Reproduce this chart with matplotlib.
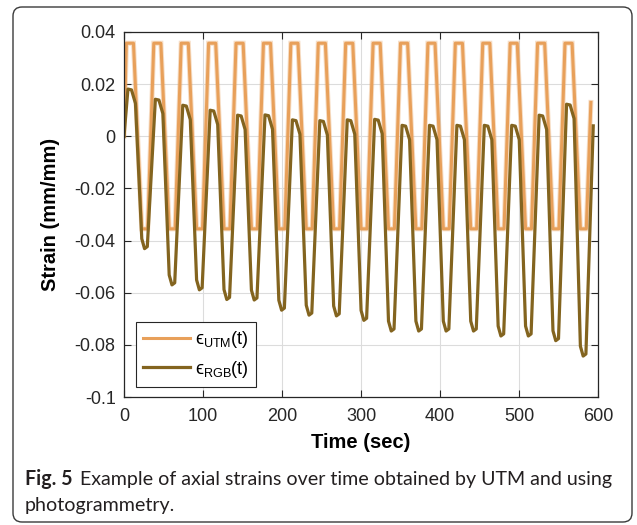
"""Axial strain vs time: UTM reading against photogrammetry (RGB) estimate."""
import matplotlib
matplotlib.use("Agg")
import matplotlib.pyplot as plt
from matplotlib.patches import FancyBboxPatch
from matplotlib.transforms import IdentityTransform
import numpy as np

# start time (s) of each loading cycle, read from the UTM wave
CYCLE_START = [0.0, 34.7, 69.4, 104.1, 138.8, 173.5, 208.2, 242.9, 277.6,
               312.3, 347.0, 381.7, 416.4, 451.1, 485.8, 520.5, 555.2]

# UTM: one trapezoid per cycle (offset from cycle start, strain)
UTM_OFFSETS = [3.0, 12.0, 22.5, 30.0]
UTM_LEVELS = [0.0357, 0.0357, -0.0355, -0.0355]
UTM_FIRST = (0.0, 0.0)
UTM_LAST = (591.0, 0.013)

# RGB: peak and trough strain of each cycle
RGB_PEAKS = [0.0181, 0.0142, 0.0119, 0.0100, 0.0081, 0.0082, 0.0063, 0.0060,
             0.0063, 0.0065, 0.0042, 0.0042, 0.0042, 0.0042, 0.0042, 0.0081,
             0.0123]
RGB_TROUGHS = [-0.0431, -0.0570, -0.0589, -0.0626, -0.0628, -0.0667, -0.0686,
               -0.0689, -0.0706, -0.0747, -0.0747, -0.0747, -0.0747, -0.0766,
               -0.0766, -0.0784, -0.0843]
# shape of one RGB cycle: offsets (s) and deviations from peak / trough
RGB_OFFSETS = [5.0, 9.5, 14.5, 22.5, 26.0, 29.5]
RGB_PEAK_DROP = [0.0, 0.0003, 0.0055]
RGB_TROUGH_RISE = [0.0038, 0.0, 0.0008]
RGB_FIRST = (0.0, 0.0)
RGB_LAST = (594.0, 0.004)

X_TICKS = [0, 100, 200, 300, 400, 500, 600]
Y_TICKS = [-0.1, -0.08, -0.06, -0.04, -0.02, 0, 0.02, 0.04]
Y_TICK_LABELS = ["-0.1", "-0.08", "-0.06", "-0.04", "-0.02", "0", "0.02", "0.04"]

UTM_COLOUR = "#e8a05a"
RGB_COLOUR = "#83641f"
UTM_LABEL = "\u03f5$_{\\mathrm{UTM}}$(t)"
RGB_LABEL = "\u03f5$_{\\mathrm{RGB}}$(t)"
CAPTION_BOLD = "Fig. 5"
CAPTION_LINE1 = "Example of axial strains over time obtained by UTM and using"
CAPTION_LINE2 = "photogrammetry."


def build_utm():
    t, y = [UTM_FIRST[0]], [UTM_FIRST[1]]
    for start in CYCLE_START:
        for off, lev in zip(UTM_OFFSETS, UTM_LEVELS):
            t.append(start + off)
            y.append(lev)
    t.append(UTM_LAST[0])
    y.append(UTM_LAST[1])
    return np.array(t), np.array(y)


def build_rgb():
    t, y = [RGB_FIRST[0]], [RGB_FIRST[1]]
    for start, pk, tr in zip(CYCLE_START, RGB_PEAKS, RGB_TROUGHS):
        vals = [pk - d for d in RGB_PEAK_DROP] + [tr + d for d in RGB_TROUGH_RISE]
        for off, v in zip(RGB_OFFSETS, vals):
            t.append(start + off)
            y.append(v)
    t.append(RGB_LAST[0])
    y.append(RGB_LAST[1])
    return np.array(t), np.array(y)


def main():
    plt.rcParams["font.family"] = ["Liberation Sans", "DejaVu Sans"]
    plt.rcParams["mathtext.fontset"] = "custom"
    plt.rcParams["mathtext.rm"] = "Liberation Sans"
    plt.rcParams["mathtext.it"] = "Liberation Sans:italic"

    fig = plt.figure(figsize=(6.37, 5.25), dpi=100)
    W, H = 637, 525
    ax = fig.add_axes([124 / W, (H - 397) / H, 474 / W, 365 / H])

    tu, yu = build_utm()
    tr, yr = build_rgb()
    # faint halo round the UTM trace, like the noisy raw signal
    ax.plot(tu, yu, color=UTM_COLOUR, lw=3.6, alpha=0.35, solid_joinstyle="miter")
    ax.plot(tu, yu, color=UTM_COLOUR, lw=2.2, label=UTM_LABEL)
    ax.plot(tr, yr, color=RGB_COLOUR, lw=2.3, label=RGB_LABEL)

    ax.set_xlim(0, 600)
    ax.set_ylim(-0.1, 0.04)
    ax.set_xticks(X_TICKS)
    ax.set_yticks(Y_TICKS)
    ax.set_yticklabels(Y_TICK_LABELS)
    ax.grid(True, color="#dcdcdc", lw=0.8)
    ax.set_axisbelow(True)
    ax.tick_params(direction="in", length=5, width=0.8, colors="#262626",
                   labelsize=13, top=True, right=True)
    ax.tick_params(axis="x", pad=8)
    ax.tick_params(axis="y", pad=6)
    for sp in ax.spines.values():
        sp.set_color("#262626")
        sp.set_linewidth(0.9)

    ax.set_xlabel("Time (sec)", fontsize=14.5, fontweight="bold")
    ax.set_ylabel("Strain (mm/mm)", fontsize=14.5, fontweight="bold")
    ax.xaxis.set_label_coords(0.5, -0.098)
    ax.yaxis.set_label_coords(-0.135, 0.5)

    leg = ax.legend(loc="lower left", bbox_to_anchor=(0.025, 0.028),
                    borderaxespad=0, fontsize=13, handlelength=2.6,
                    fancybox=False, framealpha=1, edgecolor="#262626",
                    labelspacing=0.45, handletextpad=0.3, borderpad=0.4)
    leg.get_frame().set_linewidth(0.8)

    # rounded frame round the whole figure panel
    frame = FancyBboxPatch((13, 3), 619, 515, boxstyle="round,pad=0,rounding_size=9",
                           transform=IdentityTransform(), fill=False,
                           edgecolor="#3a3a3a", lw=1.0)
    fig.add_artist(frame)

    # caption: bold figure number, then text, fitted to the panel width
    cap_kw = dict(family=["Lato", "DejaVu Sans"], color="#231f20", va="baseline")
    size = 13.0
    bold = fig.text(25 / W, (H - 485) / H, CAPTION_BOLD, fontsize=size,
                    fontweight="bold", **cap_kw)
    fig.canvas.draw()
    r = fig.canvas.get_renderer()
    bx = bold.get_window_extent(r).x1
    line1 = fig.text((bx + 7) / W, (H - 485) / H, CAPTION_LINE1, fontsize=size, **cap_kw)
    fig.canvas.draw()
    span = line1.get_window_extent(r).x1 - 25
    size = size * (612 - 25) / span
    bold.set_fontsize(size)
    fig.canvas.draw()
    bx = bold.get_window_extent(r).x1
    line1.set_fontsize(size)
    line1.set_x((bx + 7) / W)
    fig.text(25 / W, (H - 511) / H, CAPTION_LINE2, fontsize=size, **cap_kw)

    fig.savefig("out.png", dpi=100)
    plt.close(fig)


if __name__ == "__main__":
    main()
